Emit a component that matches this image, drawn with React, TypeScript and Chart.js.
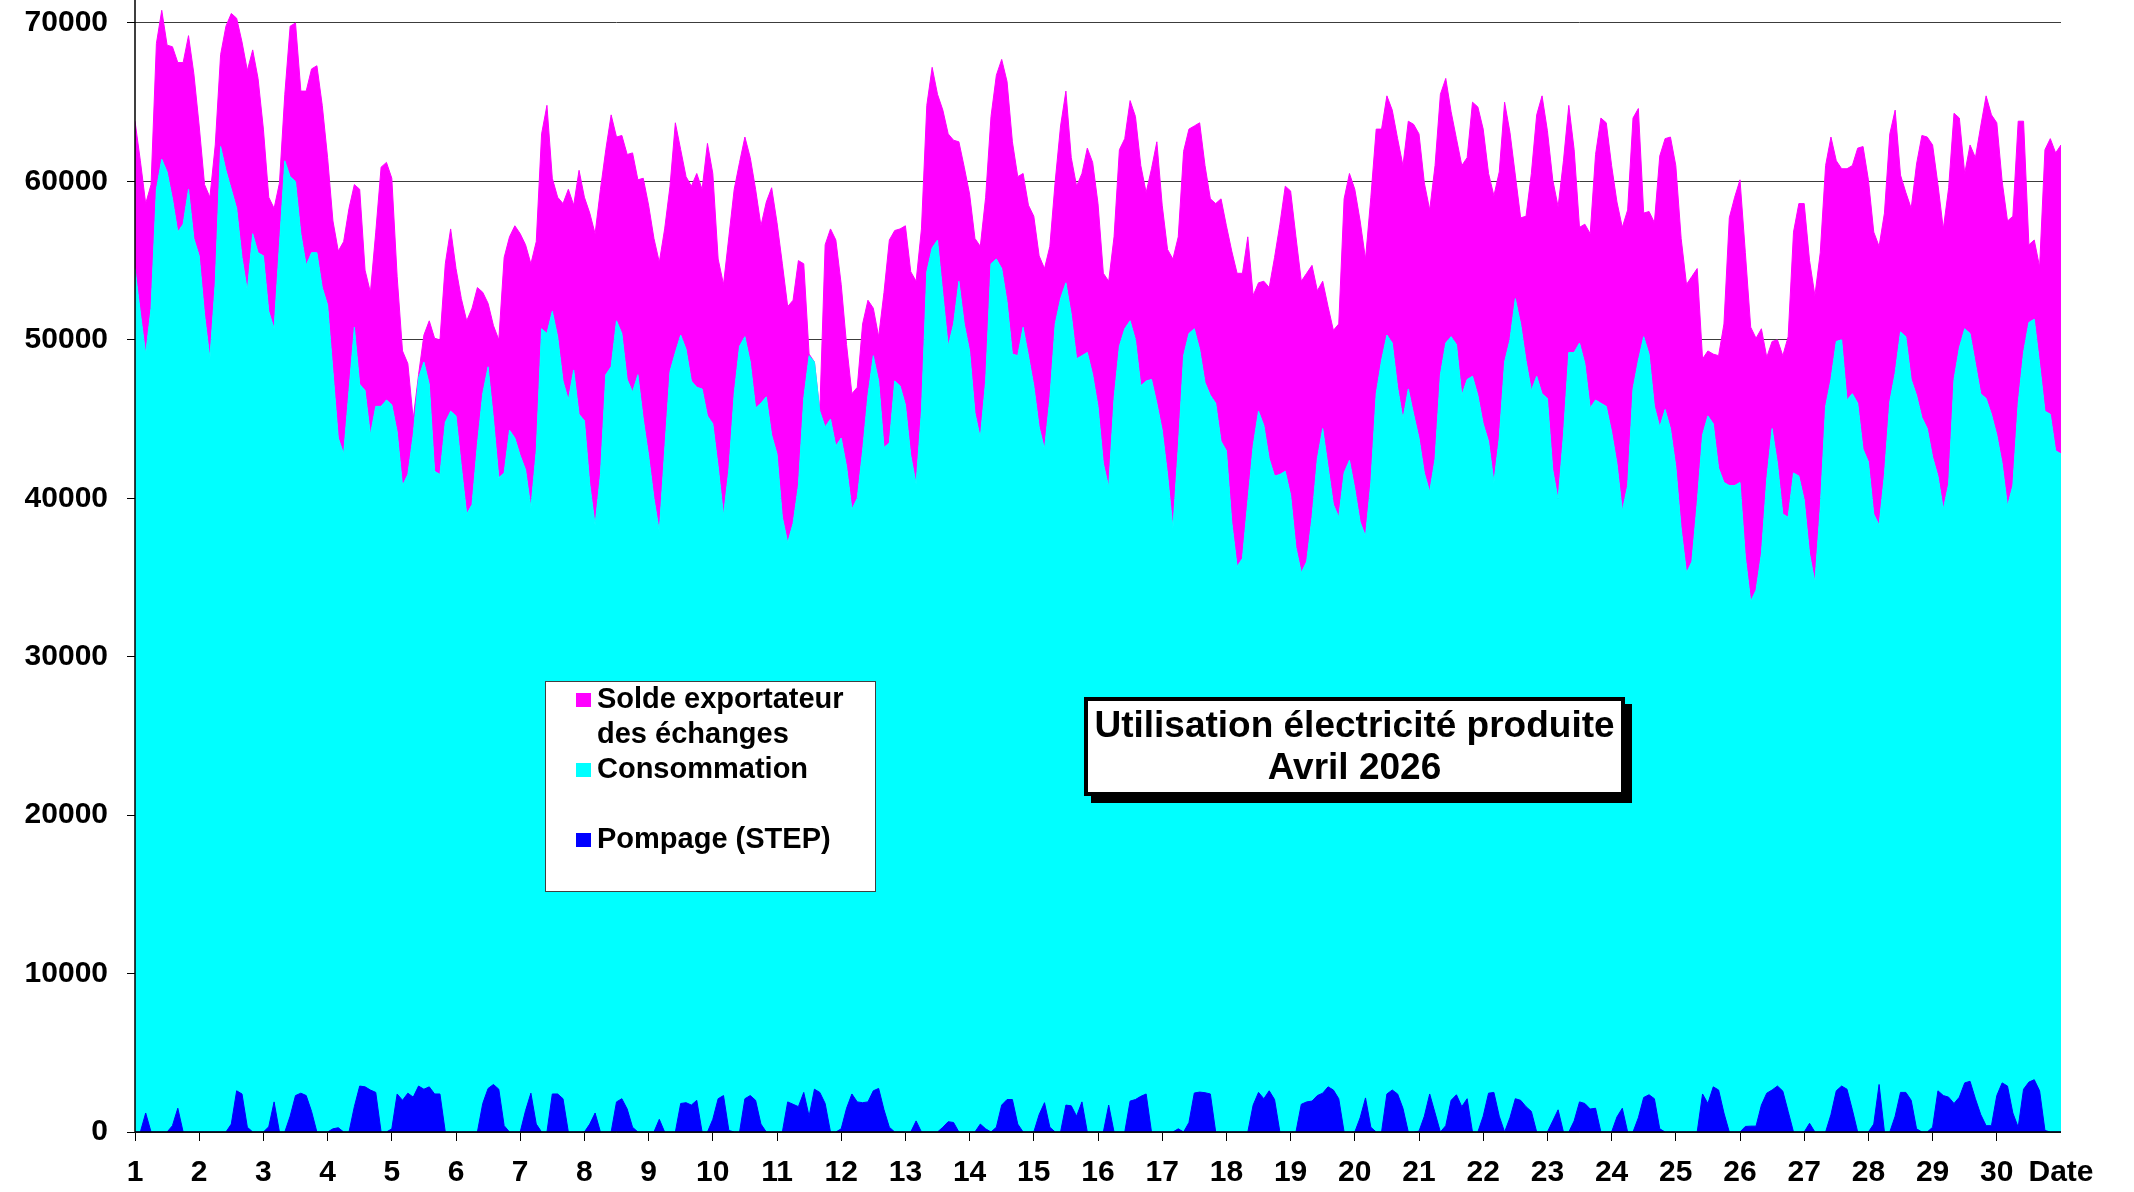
import React, { useEffect, useRef } from 'react';
import { Chart, registerables } from 'chart.js';

Chart.register(...registerables);

// Pas de temps des relevés : 2 heures, du 1er avril 0h au 1er mai 0h
const PAS_HEURES = 2;

// Consommation (MW) – 12 valeurs par jour (0h, 2h, ... 22h), puis 1er mai 0h
const consommation = [
  54500, 51700, 49100, 52000, 59500, 61400, 60600, 58900, 56800, 57300, 59500, 56400,
  55300, 51600, 48800, 53600, 62200, 60700, 59500, 58300, 55200, 53100, 56700, 55500,
  55300, 51800, 50700, 56000, 61300, 60300, 60000, 56700, 54700, 55500, 55500, 53300,
  52200, 48000, 43800, 42800, 46800, 50800, 47200, 46800, 44000, 45800, 45800, 46200,
  45900, 44200, 40800, 41500, 44000, 47600, 48600, 47200, 41700, 41500, 44800, 45500,
  45200, 42000, 39000, 39600, 43400, 46600, 48300, 45000, 41300, 41600, 44300, 43800,
  42700, 41800, 39400, 43000, 50700, 50400, 51800, 50200, 47400, 46200, 48100, 45300,
  44900, 40900, 38300, 41500, 47800, 48300, 51200, 50400, 47500, 46700, 47800, 45000,
  42700, 40000, 37900, 43000, 48000, 49200, 50300, 49400, 47400, 47000, 46900, 45200,
  44700, 42000, 38900, 41800, 46600, 49600, 50200, 48600, 45700, 46000, 46400, 44000,
  42800, 38800, 37200, 38400, 40800, 46300, 49000, 48600, 45500, 44500, 45000, 43300,
  43800, 42000, 39300, 40000, 43000, 46500, 49000, 47400, 43200, 43500, 47400, 47100,
  45900, 42700, 40900, 45500, 54300, 55800, 56300, 52900, 49600, 51000, 53700, 51000,
  49300, 45400, 43800, 47400, 54800, 55100, 54500, 52400, 49100, 49000, 50800, 49000,
  47100, 44500, 43100, 46300, 51000, 52600, 53600, 51600, 48800, 49000, 49200, 47800,
  45800, 42200, 40700, 46300, 49600, 50700, 51200, 50000, 47100, 47400, 47500, 46000,
  44300, 41500, 38100, 43200, 49000, 50400, 50700, 49400, 47300, 46500, 46000, 43600,
  43000, 38500, 35700, 36200, 39800, 43300, 45500, 44600, 42500, 41400, 41500, 41700,
  40200, 36900, 35300, 36000, 38800, 42500, 44400, 42000, 39600, 38800, 41600, 42400,
  40600, 38500, 37600, 41000, 46600, 48700, 50300, 49800, 47000, 45000, 46900, 45300,
  43800, 41600, 40400, 42500, 47800, 49800, 50200, 49700, 46500, 47500, 47700, 46500,
  44700, 43600, 41000, 43800, 48600, 50000, 52600, 51000, 48700, 46800, 47700, 46600,
  46300, 41800, 39900, 44000, 49200, 49200, 49800, 48500, 45700, 46200, 46000, 45800,
  44200, 42200, 39200, 40800, 46900, 48700, 50200, 49100, 45800, 44500, 45600, 44400,
  42000, 38100, 35300, 36000, 39700, 44000, 45200, 44700, 41900, 41000, 40800, 40800,
  41000, 36300, 33500, 34200, 36500, 41200, 44400, 42200, 39000, 38800, 41600, 41400,
  39900, 36500, 34700, 39400, 45800, 47500, 49900, 50000, 46200, 46600, 46000, 43100,
  42300, 39000, 38300, 41500, 46100, 47900, 50500, 50200, 47500, 46500, 45100, 44400,
  42600, 41400, 39300, 40900, 47500, 49500, 50700, 50400, 48500, 46600, 46300, 45300,
  44000, 42200, 39500, 40800, 46000, 49200, 51100, 51300, 48500, 45500, 45300, 43000,
  42800,
];

// Solde exportateur des échanges (MW), empilé sur la consommation
const soldeExportateur = [
  9300, 9600, 9500, 7800, 9200, 9400, 8000, 9600, 10700, 10200, 9700, 10400,
  8200, 8200, 10200, 8700, 5800, 9100, 11100, 12000, 13600, 13900, 11600, 11000,
  8000, 7200, 7600, 3900, 4200, 9500, 10000, 9000, 11000, 11600, 11800, 11500,
  9300, 9500, 11800, 13400, 11500, 9000, 12300, 7600, 9000, 11000, 15100, 15000,
  14300, 9800, 8500, 7000, 1000, 200, 1700, 4000, 8400, 8500, 10000, 11500,
  9300, 10600, 12200, 12400, 9900, 6400, 4000, 5900, 8700, 13600, 12200, 13400,
  14000, 14200, 15400, 13200, 12300, 14400, 8400, 8800, 11200, 13300, 10400, 15400,
  14100, 17100, 18400, 18000, 14200, 15900, 11600, 12500, 14200, 15100, 12300, 15200,
  15800, 16400, 17000, 14000, 11700, 14500, 11700, 10900, 12300, 13500, 12600, 17200,
  15800, 13100, 14600, 14700, 12900, 11600, 12600, 12900, 13800, 11200, 12300, 15600,
  14600, 16000, 14900, 14100, 14200, 8500, 100, 0, 0, 11500, 12000, 13000,
  9700, 7700, 7300, 7000, 8000, 6000, 3000, 2800, 9800, 12800, 9500, 9900,
  11300, 11600, 12800, 11500, 10500, 11400, 9200, 11600, 13400, 11600, 8800, 9900,
  9900, 11000, 12100, 11600, 9300, 11600, 13200, 13900, 13400, 11300, 9700, 9500,
  10700, 10800, 11400, 9600, 9000, 10900, 12100, 9900, 10900, 11500, 12900, 13400,
  12800, 12000, 13000, 10200, 12400, 12000, 13900, 14100, 13900, 11900, 13300, 16500,
  14200, 14200, 17000, 13300, 12900, 12900, 12800, 14300, 13700, 12400, 12600, 15300,
  14200, 17100, 18500, 18000, 16700, 9500, 8100, 9100, 10800, 13800, 15800, 18000,
  19200, 19600, 18400, 18200, 15900, 10600, 9300, 10100, 11000, 12200, 17300, 18100,
  18900, 19000, 17500, 18000, 16700, 14600, 15100, 14700, 15700, 16000, 16900, 18300,
  19200, 18300, 17800, 18500, 17700, 16700, 14200, 13000, 14500, 14000, 17300, 18200,
  18600, 16900, 18100, 16800, 16400, 13100, 7800, 6700, 9100, 13700, 16500, 18800,
  16900, 18300, 18500, 17300, 15600, 12800, 7300, 8800, 11000, 15500, 18000, 17900,
  16800, 16500, 17900, 17400, 17100, 15900, 7800, 9000, 11600, 17100, 17100, 18400,
  19000, 18300, 18200, 18000, 14800, 4800, 4100, 4400, 7100, 10000, 16900, 18200,
  19100, 19200, 17300, 15900, 14200, 7700, 5500, 7800, 10000, 11400, 15200, 17200,
  18700, 18500, 18100, 16100, 15200, 15300, 11400, 10800, 14600, 14400, 16100, 19100,
  17800, 17800, 17600, 16500, 16900, 16600, 9900, 9100, 10800, 14600, 17800, 18400,
  19700, 18400, 17700, 18700, 16800, 14500, 9800, 11900, 13000, 16900, 19100, 18900,
  19700, 17800, 18000, 17000, 17800, 14600, 4900, 5000, 6100, 16500, 17400, 18800,
  19500,
];

// Pompage (STEP) (MW)
const pompage = [
  0, 0, 1200, 0, 0, 0, 0, 400, 1500, 0, 0, 0,
  0, 0, 0, 0, 0, 0, 500, 2600, 2400, 300, 0, 0,
  0, 330, 1900, 0, 0, 1000, 2300, 2450, 2300, 1300, 0, 0,
  0, 200, 270, 0, 0, 1600, 2900, 2850, 2650, 2500, 0, 0,
  200, 2400, 2000, 2450, 2200, 2900, 2700, 2850, 2400, 2400, 0, 0,
  0, 0, 0, 0, 0, 1800, 2750, 3000, 2700, 400, 0, 0,
  0, 1350, 2450, 500, 0, 0, 2400, 2400, 2100, 0, 0, 0,
  0, 500, 1200, 0, 0, 0, 1900, 2100, 1450, 300, 0, 0,
  0, 0, 800, 0, 0, 0, 1800, 1850, 1700, 2000, 0, 0,
  800, 2100, 2300, 100, 0, 0, 2100, 2300, 2000, 500, 0, 0,
  0, 0, 1900, 1750, 1600, 2500, 1000, 2700, 2500, 1800, 0, 0,
  200, 1500, 2400, 1900, 1850, 1900, 2600, 2750, 1400, 300, 0, 0,
  0, 0, 700, 0, 0, 0, 0, 300, 650, 600, 0, 0,
  0, 0, 500, 200, 0, 300, 1700, 2050, 2050, 500, 0, 0,
  0, 1100, 1850, 300, 0, 0, 1700, 1650, 1000, 1900, 0, 0,
  0, 0, 1700, 0, 0, 0, 1950, 2050, 2250, 2400, 0, 0,
  0, 0, 0, 200, 0, 600, 2460, 2520, 2480, 2400, 0, 0,
  0, 0, 0, 0, 0, 1700, 2500, 2100, 2600, 2050, 0, 0,
  0, 0, 1750, 1900, 1950, 2300, 2450, 2850, 2650, 2100, 0, 0,
  0, 900, 2150, 300, 0, 0, 2400, 2650, 2400, 1500, 0, 0,
  50, 1000, 2400, 1200, 0, 400, 2000, 2350, 1600, 2100, 0, 0,
  1000, 2450, 2500, 1000, 0, 900, 2100, 2000, 1600, 1300, 0, 0,
  0, 700, 1400, 0, 0, 700, 1900, 1800, 1450, 1500, 0, 0,
  0, 950, 1500, 0, 0, 900, 2180, 2350, 2100, 200, 0, 0,
  0, 0, 0, 0, 0, 2400, 1800, 2850, 2650, 1200, 0, 0,
  0, 350, 370, 370, 1700, 2450, 2650, 2900, 2580, 1300, 0, 0,
  0, 550, 0, 0, 0, 1100, 2600, 2900, 2700, 1400, 0, 0,
  0, 500, 3000, 0, 0, 1000, 2500, 2500, 2000, 200, 0, 0,
  300, 2600, 2300, 2200, 1800, 2200, 3100, 3200, 2100, 1100, 400, 400,
  2300, 3100, 2900, 1200, 300, 2700, 3150, 3300, 2600, 100, 0, 0,
  0,
];

// Instants des relevés (heures écoulées depuis le 1er avril 0h)
const heures = consommation.map((_, i) => i * PAS_HEURES);

// Étiquettes de l'axe des dates (une par jour) + titre d'axe en bout
const etiquettesDates = [
  '1', '2', '3', '4', '5', '6', '7', '8', '9', '10', '11', '12', '13', '14', '15',
  '16', '17', '18', '19', '20', '21', '22', '23', '24', '25', '26', '27', '28', '29', '30', 'Date',
];

// Graduations de l'axe des puissances
const graduationsY = [0, 10000, 20000, 30000, 40000, 50000, 60000, 70000];

const titre = ['Utilisation électricité produite', 'Avril 2026'];

const COULEURS = { solde: '#FF00FF', conso: '#00FFFF', pompage: '#0000FF' };

const legende = [
  { lignes: ['Solde exportateur', 'des échanges'], couleur: COULEURS.solde },
  { lignes: ['Consommation', ''], couleur: COULEURS.conso },
  { lignes: ['Pompage (STEP)'], couleur: COULEURS.pompage },
];

const FONT = '"Liberation Sans", Arial, sans-serif';

const overlayPlugin = {
  id: 'overlay',
  afterDatasetsDraw(chart: any) {
    const ctx: CanvasRenderingContext2D = chart.ctx;
    const area = chart.chartArea;
    ctx.save();

    // axes
    ctx.strokeStyle = '#000';
    ctx.lineWidth = 1.5;
    ctx.beginPath();
    ctx.moveTo(area.left, area.top);
    ctx.lineTo(area.left, area.bottom);
    ctx.lineTo(area.right, area.bottom);
    ctx.stroke();

    // légende
    const lx = 545, ly = 681, lw = 330, lh = 210;
    ctx.fillStyle = '#fff';
    ctx.fillRect(lx, ly, lw, lh);
    ctx.strokeStyle = '#404040';
    ctx.lineWidth = 1;
    ctx.strokeRect(lx + 0.5, ly + 0.5, lw, lh);
    ctx.font = `bold 29px ${FONT}`;
    ctx.textBaseline = 'alphabetic';
    ctx.textAlign = 'left';
    let base = 708;
    const pas = 35;
    legende.forEach((item) => {
      ctx.fillStyle = item.couleur;
      ctx.fillRect(576, base - 15, 15, 14);
      ctx.fillStyle = '#000';
      item.lignes.forEach((t) => {
        if (t) ctx.fillText(t, 597, base);
        base += pas;
      });
    });

    // titre encadré avec ombre
    const tx = 1084, ty = 697, tw = 541, th = 99;
    ctx.fillStyle = '#000';
    ctx.fillRect(tx + 7, ty + 7, tw, th);
    ctx.fillStyle = '#fff';
    ctx.fillRect(tx, ty, tw, th);
    ctx.strokeStyle = '#000';
    ctx.lineWidth = 4;
    ctx.strokeRect(tx + 2, ty + 2, tw - 4, th - 4);
    ctx.fillStyle = '#000';
    ctx.font = `bold 37px ${FONT}`;
    ctx.textAlign = 'center';
    ctx.fillText(titre[0], tx + tw / 2, 737);
    ctx.fillText(titre[1], tx + tw / 2, 779);

    ctx.restore();
  },
};

export default function App() {
  const ref = useRef<HTMLCanvasElement | null>(null);

  useEffect(() => {
    document.body.style.margin = '0';
    const canvas = ref.current;
    if (!canvas) return;

    const mk = (vals: number[]) => heures.map((x, i) => ({ x, y: vals[i] }));

    const chart = new Chart(canvas, {
      type: 'line',
      data: {
        datasets: [
          {
            label: 'Pompage (STEP)',
            data: mk(pompage),
            stack: 'pompage',
            fill: 'origin',
            backgroundColor: COULEURS.pompage,
            borderColor: COULEURS.pompage,
            borderWidth: 1,
            pointRadius: 0,
            tension: 0,
          },
          {
            label: 'Consommation',
            data: mk(consommation),
            stack: 'utilisation',
            fill: 'origin',
            backgroundColor: COULEURS.conso,
            borderColor: COULEURS.conso,
            borderWidth: 1,
            pointRadius: 0,
            tension: 0,
          },
          {
            label: 'Solde exportateur des échanges',
            data: mk(soldeExportateur),
            stack: 'utilisation',
            fill: '-1',
            backgroundColor: COULEURS.solde,
            borderColor: COULEURS.solde,
            borderWidth: 1,
            pointRadius: 0,
            tension: 0,
          },
        ],
      },
      options: {
        animation: false,
        responsive: false,
        devicePixelRatio: 1,
        layout: { padding: { left: 0, top: 0, right: 73, bottom: 0 } },
        plugins: {
          legend: { display: false },
          tooltip: { enabled: false },
          title: { display: false },
        },
        elements: { line: { borderJoinStyle: 'round' } },
        scales: {
          x: {
            type: 'linear',
            min: 0,
            max: 720,
            border: { display: false },
            grid: {
              drawOnChartArea: false,
              drawTicks: true,
              tickLength: 9,
              tickColor: (c: any) => (c.tick && c.tick.value === 720 ? 'rgba(0,0,0,0)' : '#000'),
              tickWidth: 1,
            },
            ticks: {
              autoSkip: false,
              maxRotation: 0,
              minRotation: 0,
              padding: 14,
              color: '#000',
              font: { family: FONT, weight: 'bold', size: 30 },
              callback: (v: any) => etiquettesDates[Math.round(Number(v) / 24)] ?? '',
            },
            afterBuildTicks: (s: any) => {
              s.ticks = etiquettesDates.map((_, i) => ({ value: i * 24 }));
            },
            afterFit: (s: any) => {
              s.height = 60;
              s.paddingLeft = 0;
              s.paddingRight = 0;
            },
          },
          y: {
            stacked: true,
            min: 0,
            max: 71450,
            border: { display: false },
            grid: {
              color: '#3c3c3c',
              lineWidth: 1,
              drawTicks: true,
              tickLength: 8,
              tickColor: '#000',
            },
            ticks: {
              padding: 19,
              color: '#000',
              font: { family: FONT, weight: 'bold', size: 30 },
              callback: (v: any) => String(v),
            },
            afterBuildTicks: (s: any) => {
              s.ticks = graduationsY.map((v) => ({ value: v }));
            },
            afterFit: (s: any) => {
              s.width = 135;
              s.paddingTop = 0;
              s.paddingBottom = 0;
            },
          },
        },
      } as any,
      plugins: [overlayPlugin],
    });

    return () => chart.destroy();
  }, []);

  return (
    <div style={{ width: 2134, height: 1192, background: '#fff' }}>
      <canvas ref={ref} width={2134} height={1192} style={{ display: 'block' }} />
    </div>
  );
}
